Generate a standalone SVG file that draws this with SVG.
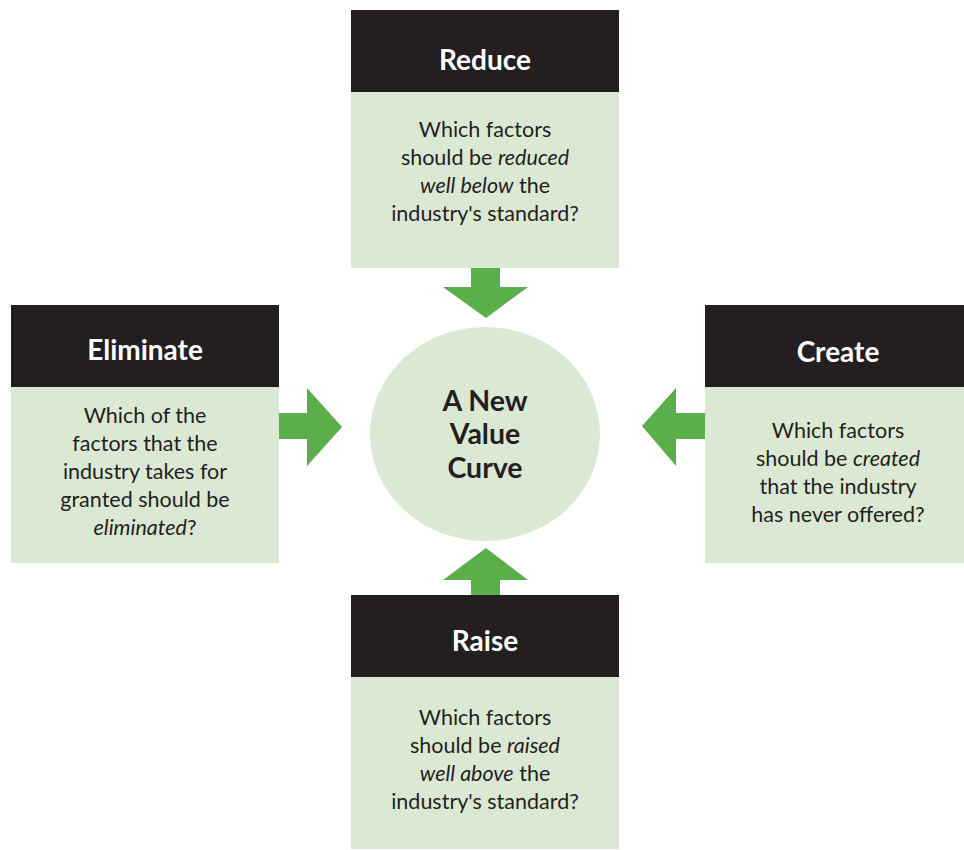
<svg xmlns="http://www.w3.org/2000/svg" width="964" height="850" viewBox="0 0 964 850">
<style>
.hdr{fill:#231f20}
.body{fill:#dbe9d4}
.arrow{fill:#5aaf4a}
.ht{font-family:Lato,"Liberation Sans",sans-serif;font-weight:bold;font-size:28px;fill:#ffffff;text-anchor:middle}
.bt{font-family:Lato,"Liberation Sans",sans-serif;font-size:21.5px;fill:#231f20;text-anchor:middle}
.ct{font-family:Lato,"Liberation Sans",sans-serif;font-weight:bold;font-size:28.5px;fill:#231f20;text-anchor:middle}
.it{font-style:italic}
</style>
<rect width="964" height="850" fill="#ffffff"/>
<g id="connectors">
<polygon class="arrow" points="471,268 500,268 500,287 528,287 486,318 443,287 471,287"/>
<polygon class="arrow" points="279,413 307,413 307,388 342,427 307,466 307,439 279,439"/>
<polygon class="arrow" points="705,413 676,413 676,388 642,426 676,466 676,439 705,439"/>
<polygon class="arrow" points="471,595 500,595 500,580 528,580 486,548 443,580 471,580"/>
</g>
<g id="center">
<ellipse cx="485" cy="434" rx="115" ry="107" class="body"/>
<text class="ct" x="485" y="411">A New</text>
<text class="ct" x="485" y="444">Value</text>
<text class="ct" x="485" y="478">Curve</text>
</g>
<g id="reduce">
<rect class="hdr" x="351" y="10" width="268" height="82"/>
<rect class="body" x="351" y="92" width="268" height="176"/>
<text class="ht" x="485" y="70">Reduce</text>
<text class="bt" x="485" y="137">Which factors</text>
<text class="bt" x="485" y="165">should be <tspan class="it">reduced</tspan></text>
<text class="bt" x="485" y="193"><tspan class="it">well below</tspan> the</text>
<text class="bt" x="485" y="221">industry's standard?</text>
</g>
<g id="eliminate">
<rect class="hdr" x="11" y="305" width="268" height="82"/>
<rect class="body" x="11" y="387" width="268" height="176"/>
<text class="ht" x="145" y="360">Eliminate</text>
<text class="bt" x="145" y="423">Which of the</text>
<text class="bt" x="145" y="451">factors that the</text>
<text class="bt" x="145" y="479">industry takes for</text>
<text class="bt" x="145" y="507">granted should be</text>
<text class="bt" x="145" y="535"><tspan class="it">eliminated</tspan>?</text>
</g>
<g id="create">
<rect class="hdr" x="705" y="305" width="259" height="82"/>
<rect class="body" x="705" y="387" width="259" height="176"/>
<text class="ht" x="838" y="362">Create</text>
<text class="bt" x="838" y="438">Which factors</text>
<text class="bt" x="838" y="466">should be <tspan class="it">created</tspan></text>
<text class="bt" x="838" y="494">that the industry</text>
<text class="bt" x="838" y="522">has never offered?</text>
</g>
<g id="raise">
<rect class="hdr" x="351" y="595" width="268" height="82"/>
<rect class="body" x="351" y="677" width="268" height="172"/>
<text class="ht" x="485" y="651">Raise</text>
<text class="bt" x="485" y="725">Which factors</text>
<text class="bt" x="485" y="753">should be <tspan class="it">raised</tspan></text>
<text class="bt" x="485" y="781"><tspan class="it">well above</tspan> the</text>
<text class="bt" x="485" y="809">industry's standard?</text>
</g>
</svg>
